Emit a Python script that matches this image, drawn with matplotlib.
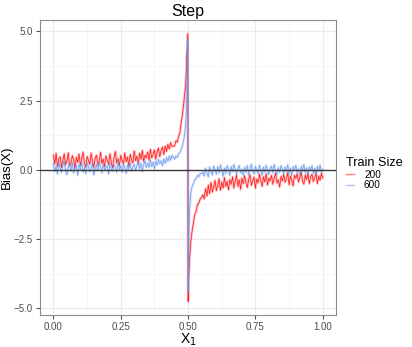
import numpy as np
import matplotlib.pyplot as plt
from matplotlib.ticker import MultipleLocator
from matplotlib.lines import Line2D

plt.rcParams['font.family'] = ['Liberation Sans', 'DejaVu Sans']

# x grid for the flat parts, denser points near the step at 0.5
x_left_flat = np.round(np.arange(0, 0.4425, 0.005), 4)
x_left_tail = [0.45, 0.455, 0.46, 0.465, 0.47, 0.475, 0.48, 0.485, 0.49, 0.493, 0.495, 0.497, 0.499]
x_right_head = [0.5001, 0.502, 0.505, 0.51, 0.515, 0.52, 0.525, 0.53, 0.535, 0.54, 0.545, 0.55, 0.555]
x_right_flat = np.round(np.arange(0.56, 1.0025, 0.005), 4)

# Train Size = 200
red_left_flat = [0.52, 0.21, 0.60, 0.12, 0.40, 0.47, 0.08, 0.33, 0.58, 0.18,
                 0.30, 0.62, 0.14, 0.24, 0.51, 0.38, 0.06, 0.45, 0.27, 0.57,
                 0.16, 0.40, 0.64, 0.22, 0.10, 0.48, 0.34, 0.20, 0.60, 0.31,
                 0.09, 0.42, 0.53, 0.17, 0.30, 0.63, 0.23, 0.39, 0.11, 0.50,
                 0.36, 0.19, 0.58, 0.27, 0.07, 0.44, 0.66, 0.24, 0.40, 0.15,
                 0.52, 0.34, 0.22, 0.61, 0.29, 0.46, 0.13, 0.56, 0.37, 0.25,
                 0.68, 0.33, 0.49, 0.21, 0.60, 0.38, 0.70, 0.30, 0.53, 0.42,
                 0.64, 0.34, 0.74, 0.43, 0.55, 0.72, 0.38, 0.66, 0.78, 0.47,
                 0.70, 0.82, 0.55, 0.86, 0.66, 0.92, 0.75, 0.98, 0.84]
red_left_tail = [0.86, 1.05, 1.0, 1.22, 1.35, 1.75, 2.05, 2.5, 3.0, 3.5, 4.1, 4.5, 4.9]
red_right_head = [-4.75, -4.0, -3.3, -2.6, -2.2, -1.9, -1.6, -1.5, -1.25, -1.2, -1.05, -1.0, -0.9]
red_right_flat = [-1.05, -0.68, -0.95, -0.55, -0.86, -0.45, -0.80, -0.62, -0.38, -0.75,
                  -0.55, -0.32, -0.74, -0.45, -0.66, -0.28, -0.60, -0.42, -0.72, -0.35,
                  -0.52, -0.25, -0.66, -0.40, -0.20, -0.60, -0.36, -0.70, -0.30, -0.50,
                  -0.22, -0.46, -0.64, -0.34, -0.18, -0.56, -0.40, -0.26, -0.66, -0.33,
                  -0.47, -0.16, -0.40, -0.60, -0.25, -0.44, -0.14, -0.55, -0.30, -0.41,
                  -0.20, -0.52, -0.30, -0.12, -0.48, -0.36, -0.62, -0.24, -0.40, -0.17,
                  -0.45, -0.32, -0.10, -0.54, -0.23, -0.38, -0.58, -0.20, -0.31, -0.14,
                  -0.44, -0.27, -0.08, -0.40, -0.52, -0.19, -0.35, -0.12, -0.50, -0.26,
                  -0.16, -0.42, -0.30, -0.09, -0.50, -0.22, -0.38, -0.13, -0.29]

# Train Size = 600
blue_left_flat = [0.22, -0.06, 0.12, -0.16, 0.28, 0.05, -0.10, 0.17, 0.30, -0.03,
                  -0.18, 0.11, 0.21, -0.05, 0.26, -0.12, 0.07, 0.16, -0.20, 0.19,
                  0.00, 0.29, -0.08, 0.09, -0.14, 0.23, 0.13, -0.07, 0.05, 0.25,
                  -0.19, 0.03, 0.18, -0.04, 0.27, 0.10, -0.11, 0.21, -0.02, 0.08,
                  0.15, -0.15, 0.24, 0.04, -0.06, 0.19, 0.09, -0.09, 0.30, 0.01,
                  0.13, -0.08, 0.22, 0.06, -0.13, 0.17, 0.03, 0.26, -0.04, 0.11,
                  0.20, -0.02, 0.14, 0.31, 0.04, 0.24, -0.07, 0.18, 0.33, 0.08,
                  0.25, 0.09, 0.35, 0.12, 0.28, 0.04, 0.31, 0.17, 0.38, 0.22,
                  0.33, 0.15, 0.40, 0.24, 0.45, 0.30, 0.50, 0.34, 0.52]
blue_left_tail = [0.38, 0.50, 0.45, 0.58, 0.62, 0.75, 0.9, 1.15, 1.5, 2.0, 2.6, 3.4, 4.7]
blue_right_head = [-4.4, -2.8, -1.6, -0.85, -0.6, -0.5, -0.35, -0.32, -0.2, -0.25, -0.12, -0.15, -0.08]
blue_right_flat = [-0.22, 0.06, -0.12, -0.26, 0.10, -0.05, -0.19, 0.14, -0.01, -0.16,
                   0.11, -0.10, 0.18, -0.04, -0.23, 0.07, -0.14, 0.15, 0.01, -0.20,
                   0.12, -0.07, 0.19, -0.02, -0.17, 0.05, 0.16, -0.12, 0.02, -0.21,
                   0.09, -0.09, 0.15, -0.18, 0.03, 0.20, -0.06, -0.15, 0.12, -0.01,
                   -0.14, 0.17, 0.00, -0.20, 0.10, -0.08, 0.16, -0.03, -0.17, 0.07,
                   0.13, -0.11, 0.19, -0.05, -0.18, 0.08, -0.09, 0.15, 0.02, -0.16,
                   0.10, -0.06, 0.18, -0.14, 0.05, -0.21, 0.12, -0.01, 0.16, -0.10,
                   0.03, -0.17, 0.13, -0.05, 0.19, -0.11, 0.07, -0.18, 0.10, -0.03,
                   0.15, -0.12, 0.05, -0.16, 0.12, -0.06, 0.17, -0.09, 0.02]

sizes = ["200", "600"]
colors = ["#FF0000", "#6495ED"]

x = np.concatenate([x_left_flat, x_left_tail, x_right_head, x_right_flat])
series = [
  np.concatenate([red_left_flat, red_left_tail, red_right_head, red_right_flat]),
  np.concatenate([blue_left_flat, blue_left_tail, blue_right_head, blue_right_flat]),
]

fig = plt.figure(figsize=(4.12, 3.47), dpi=100)
ax = fig.add_axes([0.097, 0.092, 0.719, 0.850])

for y, c in zip(series, colors):
  ax.plot(x, y, color=c, lw=1.8, alpha=0.25)
  ax.plot(x, y, color=c, lw=0.5, alpha=0.9)

ax.axhline(0, color='#3a3a3a', lw=1.0, zorder=5)

ax.set_xlim(-0.05, 1.05)
ax.set_ylim(-5.24, 5.4)
ax.xaxis.set_major_locator(MultipleLocator(0.25))
ax.xaxis.set_minor_locator(MultipleLocator(0.125))
ax.yaxis.set_major_locator(MultipleLocator(2.5))
ax.yaxis.set_minor_locator(MultipleLocator(1.25))
ax.grid(which='major', color='#EBEBEB', lw=0.8)
ax.grid(which='minor', color='#F3F3F3', lw=0.5)
ax.set_axisbelow(True)
for s in ax.spines.values():
  s.set_color('#8c8c8c')
  s.set_linewidth(0.8)
ax.tick_params(which='major', length=3, color='#555555', labelsize=7, labelcolor='#4D4D4D', pad=2)
ax.tick_params(which='minor', length=0)

ax.set_title('Step', fontsize=11.5, pad=3)
ax.set_xlabel('X$_1$', fontsize=10, labelpad=0)
ax.set_ylabel('Bias(X)', fontsize=9.5)
ax.yaxis.set_label_coords(-0.093, 0.5)

handles = [Line2D([0], [0], color=c, lw=1.0, alpha=0.5) for c in colors]
fig.legend(handles, sizes, title='Train Size', loc='center left', bbox_to_anchor=(0.83, 0.5),
           frameon=False, fontsize=7.2, title_fontsize=9.1, handlelength=0.8,
           handletextpad=1.0, labelspacing=0.05, alignment='left', borderaxespad=0)

fig.savefig('out.png', dpi=100)
